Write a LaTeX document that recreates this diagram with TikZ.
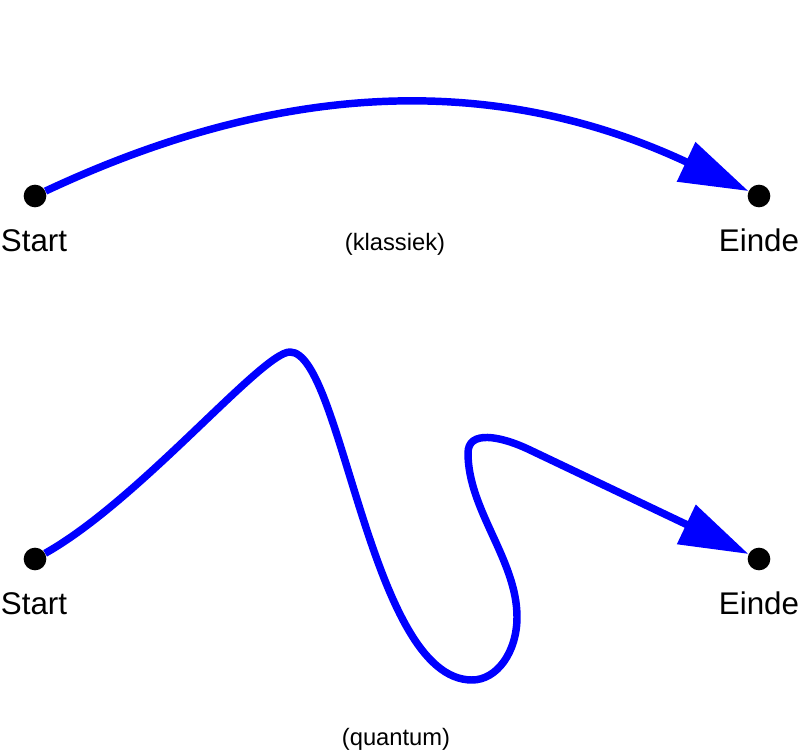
\documentclass[tikz,border=0pt]{standalone}
\usepackage{fontspec}
\setmainfont{Liberation Sans}
\usetikzlibrary{arrows.meta}

\begin{document}
\begin{tikzpicture}[x=.75pt,y=-.75pt,
  punt/.style={circle,fill=black,inner sep=0pt,minimum size=17pt},
  baan/.style={draw=blue,line width=5.6pt,line join=round,-{Triangle[length=51.7pt,width=31.4pt]}},
  naam/.style={anchor=base,font=\fontsize{23.5}{26}\selectfont},
  soort/.style={anchor=base,font=\fontsize{17.8}{20}\selectfont}]
\useasboundingbox (0,0) rectangle (800,756);

% klassiek
\node[punt] (s1) at (35,196){};
\node[punt] (e1) at (759,196){};
\node[naam] (ls1) at (34,252){Start};
\node[naam] (le1) at (759,252){Einde};
\node[soort] (k) at (395,250){(klassiek)};
\draw[baan] (s1) .. controls (291,76) and (503,76) .. (e1);

% quantum
\node[punt] (s2) at (35,559){};
\node[punt] (e2) at (759,559){};
\node[naam] (ls2) at (34,614){Start};
\node[naam] (le2) at (759,614){Einde};
\node[soort] (q) at (396,745){(quantum)};
\draw[baan] (s2) .. controls (140,500) and (262,352) .. (290,352)
  .. controls (342,352) and (370,680) .. (472,680)
  .. controls (497,680) and (517,652) .. (517,617)
  .. controls (517,560) and (468,510) .. (468,453)
  .. controls (468,430) and (500,435.6) .. (530,450)
  -- (e2);
\end{tikzpicture}
\end{document}
